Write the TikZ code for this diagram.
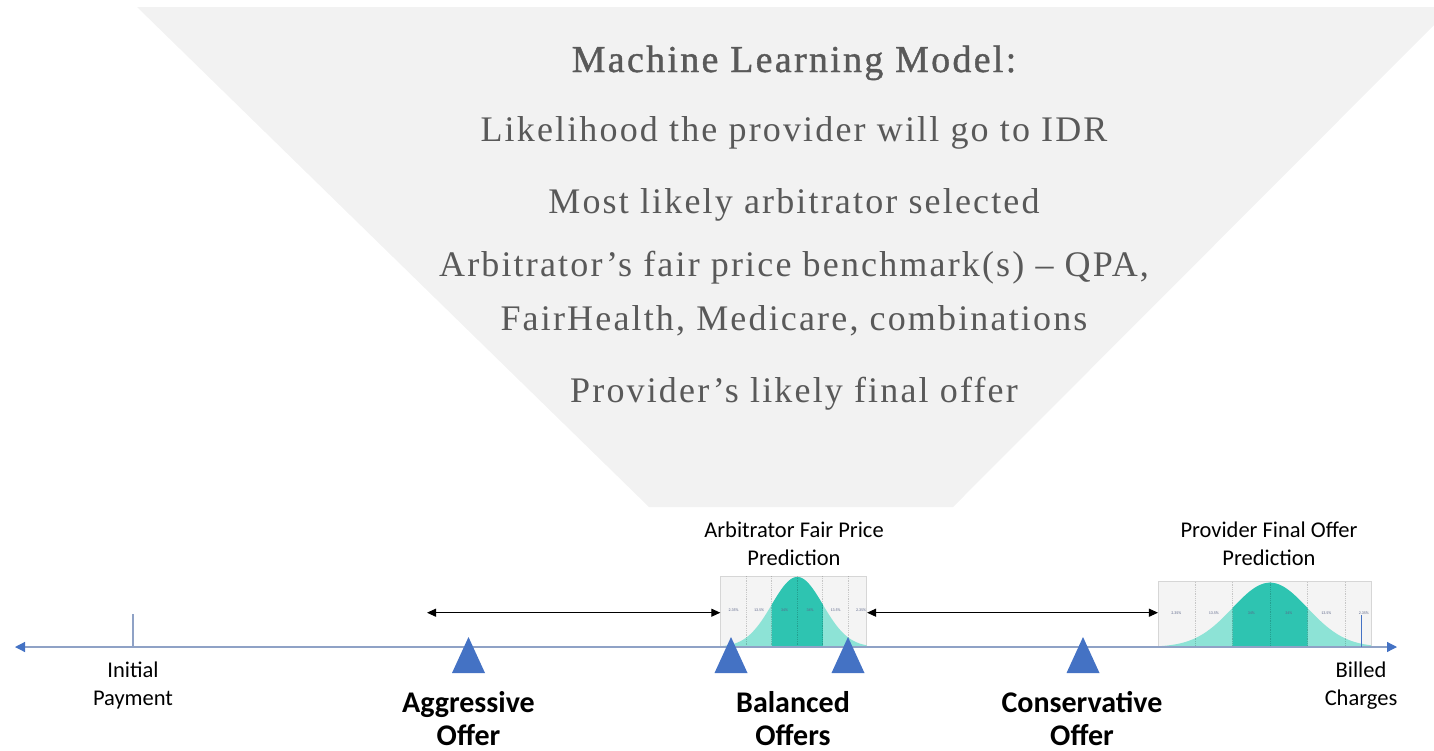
\documentclass[tikz,border=0pt]{standalone}
\usepackage{fontspec}
\setmainfont{Carlito}
\newfontfamily\mlfont[LetterSpace=6]{Liberation Serif}
\newfontfamily\mlheadfont[LetterSpace=6,FakeBold=1]{Liberation Serif}
\usetikzlibrary{arrows.meta}
\definecolor{funnelgray}{HTML}{F2F2F2}
\definecolor{txtgray}{HTML}{595959}
\definecolor{offerblue}{HTML}{4472C4}
\definecolor{axisgray}{HTML}{8FA2C6}
\definecolor{tealdark}{HTML}{2EC4B1}
\definecolor{teallight}{HTML}{8DE3D6}
\definecolor{boxgray}{HTML}{F4F4F4}
\definecolor{boxline}{HTML}{D6D6D6}
\definecolor{pctblue}{HTML}{5A6488}

\begin{document}
\begin{tikzpicture}[x=1pt,y=-1pt,
    ml/.style={anchor=base,inner sep=0pt,text=txtgray,font=\mlfont\fontsize{36}{40}\selectfont},
    mlhead/.style={ml,font=\mlheadfont\fontsize{38}{42}\selectfont},
    lbl/.style={anchor=base,inner sep=0pt,align=center,font=\fontsize{22.5}{28}\selectfont},
    offer/.style={anchor=base,inner sep=0pt,align=center,font=\fontsize{30}{33}\selectfont\bfseries},
    distbox/.style={draw=boxline,fill=boxgray,inner sep=0pt,line width=0.8pt},
    sep/.style={densely dotted,draw=black,draw opacity=0.18,line width=0.8pt},
    pct/.style={inner sep=0pt,text=pctblue,font=\fontsize{4}{5}\selectfont},
    tri/.style={fill=offerblue},
    axis/.style={draw=axisgray,line width=1.2pt,
      {Triangle[length=10pt,width=10pt,color=offerblue]}-{Triangle[length=10pt,width=10pt,color=offerblue]}},
    tick/.style={draw=axisgray,line width=1.2pt},
    dbl/.style={line width=1pt,{Triangle[length=9pt,width=8pt]}-{Triangle[length=9pt,width=8pt]}}]
  \useasboundingbox (0,0) rectangle (1434,750);

  % model funnel
  \fill[funnelgray] (137,7) -- (1452,7) -- (953,507) -- (649,507) -- cycle;
  \node[mlhead] (title) at (794,72) {Machine Learning Model:};
  \node[ml] (idr) at (794,141) {Likelihood the provider will go to IDR};
  \node[ml] (arb) at (794,213) {Most likely arbitrator selected};
  \node[ml] (bench) at (794,276) {Arbitrator’s fair price benchmark(s) – QPA,};
  \node[ml] (bench2) at (794,330) {FairHealth, Medicare, combinations};
  \node[ml] (final) at (794,402) {Provider’s likely final offer};

  % prediction boxes with bell curves
  \foreach \n/\cx/\w/\top/\mu/\sg in {afp/793.7/146/576/797.3/25.5, pfo/1264.7/212.7/581.7/1270/37.5}{
    \pgfmathsetmacro\xl{\cx-\w/2}
    \pgfmathsetmacro\xr{\cx+\w/2}
    \pgfmathsetmacro\dl{\mu-\sg}
    \pgfmathsetmacro\dr{\mu+\sg}
    \pgfmathsetmacro\h{647-\top-1}
    \pgfmathsetmacro\ym{(\top+647)/2-1}
    \node[distbox,minimum width=\w,minimum height={647-\top}] (\n) at (\cx,{(\top+647)/2}) {};
    \fill[teallight] (\xl,647) -- plot[domain=\xl:\xr,samples=80] (\x,{647-\h*exp(-0.5*((\x-\mu)/\sg)^2)}) -- (\xr,647) -- cycle;
    \fill[tealdark] (\dl,647) -- plot[domain=\dl:\dr,samples=40] (\x,{647-\h*exp(-0.5*((\x-\mu)/\sg)^2)}) -- (\dr,647) -- cycle;
    \foreach \k in {-2,...,2}
      \draw[sep] ({\mu+\k*\sg},\top) -- ({\mu+\k*\sg},647);
    \foreach \p [count=\i] in {2.35\%,13.5\%,34\%,34\%,13.5\%,2.35\%}
      \node[pct] (\n-\i) at ({\mu+(\i-3.5)*\sg},\ym) {\p};
  }
  \node[lbl] (afptitle) at (794,565) {Arbitrator Fair Price\\Prediction};
  \node[lbl] (pfotitle) at (1269,565) {Provider Final Offer\\Prediction};

  % payment axis
  \coordinate (lft) at (15,647);
  \coordinate (rgt) at (1397,647);
  \coordinate (ini) at (133,614);
  \coordinate (bill) at (1361,615);
  \draw[axis] (lft) -- (rgt);
  \draw[tick] (ini) -- (ini |- lft);
  \draw[draw=offerblue,line width=1pt] (bill) -- (bill |- lft);
  \node[lbl] (inilbl) at (133,705) {Initial\\Payment};
  \node[lbl] (billlbl) at (1361,705) {Billed\\Charges};

  % offer markers
  \foreach \n/\x in {aggr/468.5,bal1/731,bal2/848,cons/1083}{
    \coordinate (\n) at (\x,673);
    \fill[tri] (\n) ++(-16.5,0) -- ++(33,0) -- ++(-16.5,-36) -- cycle;
  }
  \node[offer] (aggrlbl) at (468.5,745) {Aggressive\\Offer};
  \node[offer] (ballbl) at (793,745) {Balanced\\Offers};
  \node[offer] (conslbl) at (1082,745) {Conservative\\Offer};

  % ranges between the predictions
  \coordinate (aglim) at (427,612.7);
  \draw[dbl] (aglim) -- (aglim -| afp.west);
  \draw[dbl] (aglim -| afp.east) -- (aglim -| pfo.west);
\end{tikzpicture}
\end{document}
